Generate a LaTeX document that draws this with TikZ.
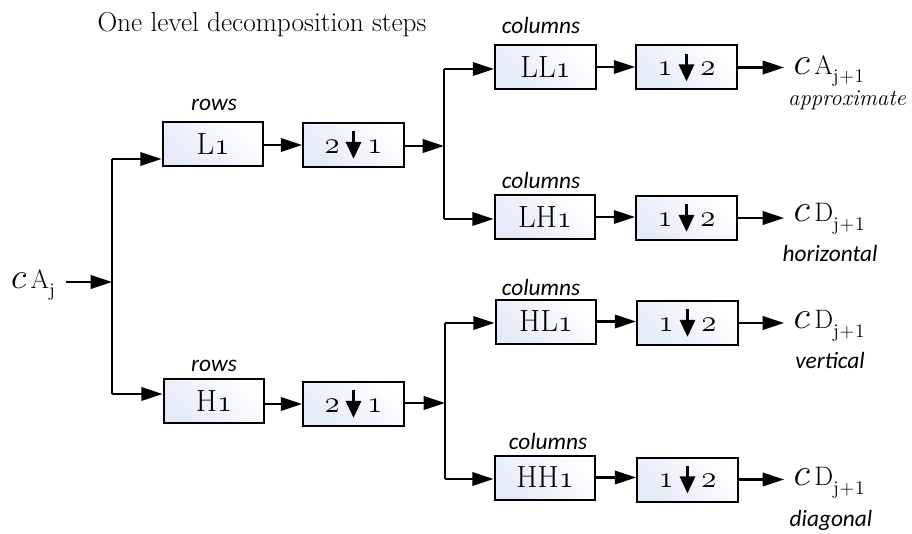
\documentclass[tikz,border=0pt]{standalone}
\usepackage{fix-cm}
\usepackage{fontspec}
\newfontfamily\labelfont{Carlito}
\usetikzlibrary{arrows.meta}

\definecolor{boxblue}{RGB}{228,234,248}

% old-style digits taken from the math italic font
\newcommand\osnum[1]{{\usefont{OML}{cmm}{m}{it}#1}}
% downsampling arrow drawn inside the decimation boxes
\newcommand\dsym{\tikz[baseline=0pt]\draw[line width=1.6pt,-{Triangle[length=0.55em,width=0.5em]}] (0,0.72em) -- (0,-0.18em);}
\newcommand\decim[2]{\osnum{#1}\hspace{0.2em}\dsym\hspace{0.2em}\osnum{#2}}
% wavelet coefficient names: large italic c, upright letter, upright subscript
\newcommand\coefname[3]{{\fontsize{#3}{#3}\selectfont$c$}\,#1\raisebox{-0.32em}{\fontsize{14.5}{15}\selectfont #2}}

\begin{document}
\begin{tikzpicture}[x=0.75pt,y=-0.75pt,
  wire/.style={line width=1.9pt},
  conn/.style={line width=1.9pt,-{Triangle[length=16pt,width=10pt]}},
  filt/.style={draw, line width=1.5pt, minimum width=75.5pt, minimum height=33pt,
    inner sep=0pt, top color=white, bottom color=boxblue, shading angle=-45,
    font=\fontsize{23}{24}\selectfont},
  dir/.style={font=\labelfont\itshape\fontsize{17.5}{18}\selectfont, inner sep=1pt},
  coef/.style={font=\fontsize{20}{22}\selectfont, inner ysep=3pt, inner xsep=7pt, anchor=west},
  titletext/.style={font=\fontsize{20.5}{22}\selectfont, inner sep=0pt}
]
\useasboundingbox (0,0) rectangle (912,534);

\node[titletext] (title) at (262,25) {One level decomposition steps};

% input
\node[font=\fontsize{20}{22}\selectfont, inner sep=0pt] (in) at (33,285) {\coefname{A}{j}{27}};

% first stage: rows
\node[filt] (L1) at (213,144) {L\osnum{1}};
\node[filt] (dL) at (353.5,145) {\decim{2}{1}};
\node[filt] (H1) at (214,401) {H\osnum{1}};
\node[filt] (dH) at (353.5,404) {\decim{2}{1}};
\node[dir] (rL) at (214,105) {rows};
\node[dir] (rH) at (214,366) {rows};

% second stage: columns
\node[filt] (LL1) at (545.5,67) {LL\osnum{1}};
\node[filt] (dLL) at (686.5,67.5) {\decim{1}{2}};
\node[filt] (LH1) at (545,217) {LH\osnum{1}};
\node[filt] (dLH) at (686.5,218) {\decim{1}{2}};
\node[filt] (HL1) at (546,321.5) {HL\osnum{1}};
\node[filt] (dHL) at (687.5,323) {\decim{1}{2}};
\node[filt] (HH1) at (545,477.5) {HH\osnum{1}};
\node[filt] (dHH) at (687.5,479.5) {\decim{1}{2}};
\node[dir] (cLL) at (541,25) {columns};
\node[dir] (cLH) at (541,180) {columns};
\node[dir] (cHL) at (541,287) {columns};
\node[dir] (cHH) at (548,441) {columns};

% outputs
\node[coef] (oLL) at (784,71) {\coefname{A}{j\kern0.5pt+\kern0.5pt1}{29}};
\node[coef] (oLH) at (784,219) {\coefname{D}{j\kern0.5pt+\kern0.5pt1}{29}};
\node[coef] (oHL) at (784,326) {\coefname{D}{j\kern0.5pt+\kern0.5pt1}{29}};
\node[coef] (oHH) at (784,483) {\coefname{D}{j\kern0.5pt+\kern0.5pt1}{29}};
\node[font=\itshape\fontsize{17}{18}\selectfont, inner sep=1pt] (tLL) at (847,100) {approximate};
\node[dir] (tLH) at (830,253) {horizontal};
\node[dir] (tHL) at (830,360) {vertical};
\node[dir] (tHH) at (831,520) {diagonal};

% branch points
\coordinate (jA) at (112,159);
\coordinate (jB) at (112,394);
\coordinate (jIn) at (112,282);
\coordinate (sA) at (444,146);
\coordinate (sAt) at (444,69);
\coordinate (sAb) at (444,219);
\coordinate (sB) at (445,403);
\coordinate (sBt) at (445,323);
\coordinate (sBb) at (445,479);

% input split
\draw[wire] (jA) -- (jB);
\draw[conn] ([xshift=8pt]in.east |- jIn) -- (jIn);
\draw[conn] (jA) -- (jA -| L1.west);
\draw[conn] (jB) -- (jB -| H1.west);

% row filtering and decimation
\draw[conn] (L1.east |- dL.west) -- (dL.west);
\draw[conn] (H1.east |- dH.west) -- (dH.west);
\draw[conn] (dL.east |- sA) -- (sA);
\draw[conn] (dH.east |- sB) -- (sB);

% column splits
\draw[wire] (sAt) -- (sAb);
\draw[wire] (sBt) -- (sBb);
\draw[conn] (sAt) -- (sAt -| LL1.west);
\draw[conn] (sAb) -- (sAb -| LH1.west);
\draw[conn] (sBt) -- (sBt -| HL1.west);
\draw[conn] (sBb) -- (sBb -| HH1.west);

% column filtering and decimation
\draw[conn] (LL1.east) -- (LL1.east -| dLL.west);
\draw[conn] (LH1.east) -- (LH1.east -| dLH.west);
\draw[conn] (HL1.east) -- (HL1.east -| dHL.west);
\draw[conn] (HH1.east) -- (HH1.east -| dHH.west);
\draw[conn] (dLL.east) -- (dLL.east -| oLL.west);
\draw[conn] (dLH.east) -- (dLH.east -| oLH.west);
\draw[conn] (dHL.east) -- (dHL.east -| oHL.west);
\draw[conn] (dHH.east) -- (dHH.east -| oHH.west);
\end{tikzpicture}
\end{document}
